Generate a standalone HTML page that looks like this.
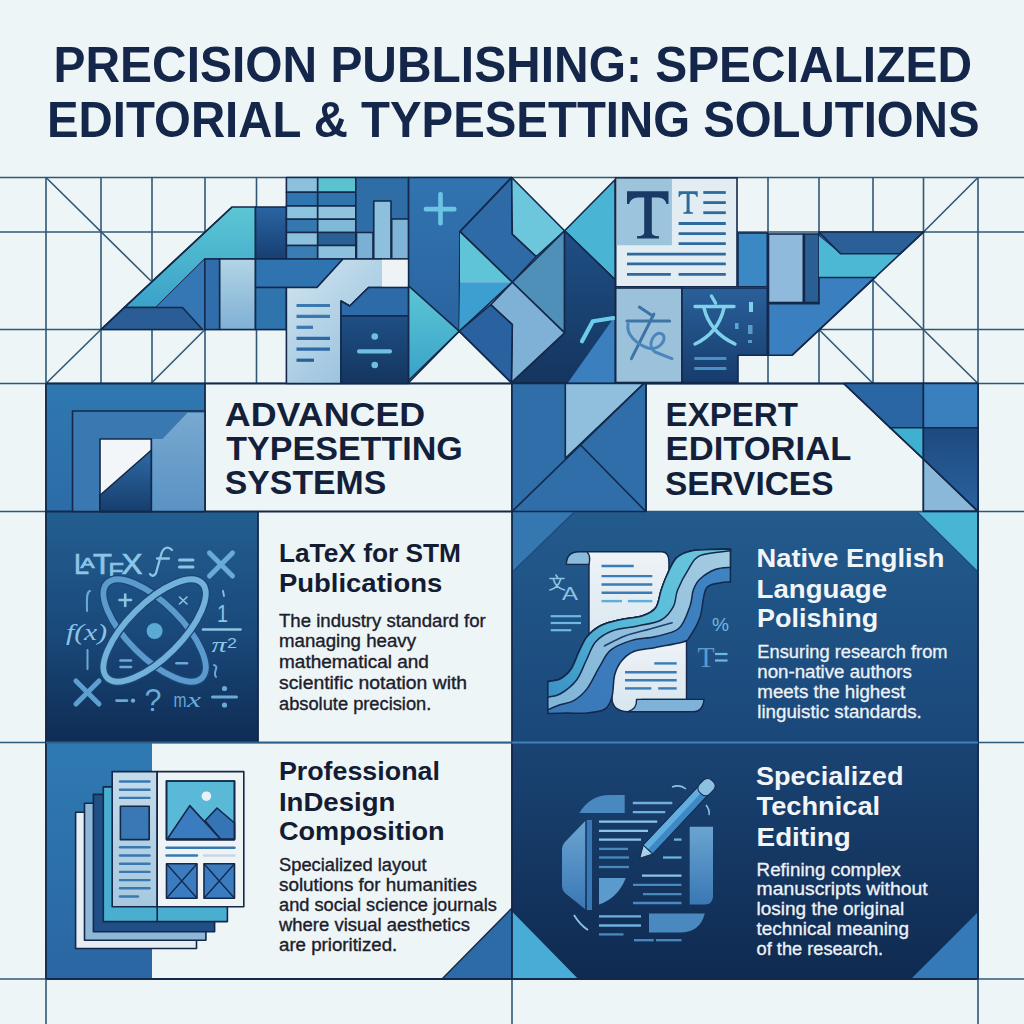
<!DOCTYPE html>
<html><head><meta charset="utf-8">
<style>
html,body{margin:0;padding:0;background:#eef5f6;width:1024px;height:1024px;overflow:hidden}
svg{display:block}
.t{font-family:"Liberation Sans",sans-serif;font-weight:bold}
.r{font-family:"Liberation Sans",sans-serif}
</style></head><body>
<svg width="1024" height="1024" viewBox="0 0 1024 1024">
<defs>
<linearGradient id="gDark" x1="0" y1="0" x2="0" y2="1"><stop offset="0" stop-color="#2a609a"/><stop offset="1" stop-color="#163c6c"/></linearGradient>
<linearGradient id="gDark2" x1="0" y1="0" x2="0" y2="1"><stop offset="0" stop-color="#1f4f85"/><stop offset="1" stop-color="#14355f"/></linearGradient>
<linearGradient id="gP3" x1="0" y1="0" x2="0" y2="1"><stop offset="0" stop-color="#235b8c"/><stop offset="1" stop-color="#1a477a"/></linearGradient>
<linearGradient id="gP4" x1="0" y1="0" x2="0" y2="1"><stop offset="0" stop-color="#1a4474"/><stop offset="1" stop-color="#0f2a50"/></linearGradient>
<linearGradient id="gID" x1="0" y1="0" x2="0" y2="1"><stop offset="0" stop-color="#2f7ab2"/><stop offset="1" stop-color="#2a66a3"/></linearGradient>
<linearGradient id="gLogoO" x1="0" y1="0" x2="0" y2="1"><stop offset="0" stop-color="#2f78b0"/><stop offset="1" stop-color="#2c6ca8"/></linearGradient>
<linearGradient id="gLatex" x1="0" y1="0" x2="0" y2="1"><stop offset="0" stop-color="#235e90"/><stop offset="0.5" stop-color="#1a4a7c"/><stop offset="1" stop-color="#0f2c54"/></linearGradient>
</defs>
<rect width="1024" height="1024" fill="#eef5f6"/>
<!-- background grid -->
<g id="grid" stroke="#2f5878" stroke-width="1.6" fill="none">
<line x1="0" y1="177.5" x2="1024" y2="177.5"/>
<line x1="0" y1="232" x2="1024" y2="232"/>
<line x1="0" y1="329.5" x2="1024" y2="329.5"/>
<line x1="0" y1="383.5" x2="1024" y2="383.5"/>
<line x1="0" y1="511.5" x2="1024" y2="511.5"/>
<line x1="0" y1="742.5" x2="1024" y2="742.5"/>
<line x1="0" y1="979" x2="1024" y2="979"/>
<line x1="46" y1="177.5" x2="46" y2="1024"/>
<line x1="978" y1="177.5" x2="978" y2="1024"/>
<line x1="101" y1="177.5" x2="101" y2="383.5"/>
<line x1="152" y1="177.5" x2="152" y2="383.5"/>
<line x1="205" y1="177.5" x2="205" y2="383.5"/>
<line x1="256.5" y1="177.5" x2="256.5" y2="383.5"/>
<line x1="768" y1="177.5" x2="768" y2="383.5"/>
<line x1="819" y1="177.5" x2="819" y2="383.5"/>
<line x1="873" y1="177.5" x2="873" y2="383.5"/>
<line x1="923.5" y1="177.5" x2="923.5" y2="383.5"/>
<line x1="512" y1="511.5" x2="512" y2="1024"/>
<!-- diagonals -->
<line x1="46" y1="177.5" x2="151" y2="281"/>
<line x1="101" y1="329.5" x2="46" y2="383.5"/>
<line x1="205" y1="329.5" x2="151" y2="383.5"/>
<line x1="923.5" y1="232" x2="978" y2="177.5"/>
<line x1="873" y1="280" x2="978" y2="383.5"/>
<line x1="819" y1="329.5" x2="873" y2="383.5"/>
</g>

<!-- title -->
<g class="t" fill="#14264a" font-size="50">
<text x="53.5" y="81.5" textLength="918.5" lengthAdjust="spacingAndGlyphs">PRECISION PUBLISHING: SPECIALIZED</text>
<text x="47" y="136.6" textLength="932.5" lengthAdjust="spacingAndGlyphs">EDITORIAL &amp; TYPESETTING SOLUTIONS</text>
</g>

<!-- section panels -->
<g id="panels">
<rect x="46" y="383.5" width="159" height="128" fill="url(#gLogoO)"/>
<rect x="205" y="383.5" width="307" height="128" fill="#eef5f6"/>
<rect x="46" y="511.5" width="212" height="231" fill="url(#gLatex)"/>
<rect x="258" y="511.5" width="254" height="231" fill="#eef5f6"/>
<rect x="512" y="511.5" width="466" height="231" fill="url(#gP3)"/>
<rect x="46" y="742.5" width="106" height="236.5" fill="url(#gID)"/>
<rect x="512" y="742.5" width="466" height="236.5" fill="url(#gP4)"/>
<polygon points="442,979 512,908 512,979" fill="#2d6aa8" stroke="#13284a" stroke-width="1.4"/>
<polygon points="911,979 978,912 978,979" fill="#3479b8"/>
<polygon points="512,911.6 512,979 578.2,979" fill="#48acd6"/>
</g>
<g stroke="#13284a" stroke-width="1.8" fill="none">
<line x1="46" y1="383.5" x2="978" y2="383.5"/>
<line x1="46" y1="511.5" x2="512" y2="511.5"/>
<line x1="46" y1="383.5" x2="46" y2="979"/>
<line x1="978" y1="383.5" x2="978" y2="979"/>
<line x1="205" y1="383.5" x2="205" y2="511.5"/>
<line x1="512" y1="383.5" x2="512" y2="979"/>
<line x1="46" y1="979" x2="978" y2="979"/>
<line x1="258" y1="511.5" x2="258" y2="742.5"/>
</g>
<line x1="512" y1="742.5" x2="978" y2="742.5" stroke="#3d80bb" stroke-width="2"/>
<line x1="46" y1="742.5" x2="512" y2="742.5" stroke="#2f5f88" stroke-width="1.8"/>

<!-- section heading texts -->
<g class="t" fill="#141f3a" font-size="33">
<text x="224.8" y="426.2" textLength="200.4" lengthAdjust="spacingAndGlyphs">ADVANCED</text>
<text x="226.2" y="460" textLength="236.6" lengthAdjust="spacingAndGlyphs">TYPESETTING</text>
<text x="224.8" y="494" textLength="161.4" lengthAdjust="spacingAndGlyphs">SYSTEMS</text>
<text x="665.6" y="425.9" textLength="132.4" lengthAdjust="spacingAndGlyphs">EXPERT</text>
<text x="665.6" y="460.2" textLength="185.7" lengthAdjust="spacingAndGlyphs">EDITORIAL</text>
<text x="664.9" y="494.5" textLength="168.6" lengthAdjust="spacingAndGlyphs">SERVICES</text>
</g>
<g class="t" fill="#141c33" font-size="26.5">
<text x="278.9" y="562.2" textLength="182.1" lengthAdjust="spacingAndGlyphs">LaTeX for STM</text>
<text x="278.9" y="591.5" textLength="163.4" lengthAdjust="spacingAndGlyphs">Publications</text>
<text x="278.9" y="780" textLength="161.0" lengthAdjust="spacingAndGlyphs">Professional</text>
<text x="278.9" y="810.5" textLength="116.5" lengthAdjust="spacingAndGlyphs">InDesign</text>
<text x="278.9" y="840.2" textLength="165.7" lengthAdjust="spacingAndGlyphs">Composition</text>
</g>
<g class="t" fill="#f2f5f8" font-size="26.5">
<text x="756.6" y="567" textLength="187.9" lengthAdjust="spacingAndGlyphs">Native English</text>
<text x="756.6" y="598" textLength="130.5" lengthAdjust="spacingAndGlyphs">Language</text>
<text x="757.0" y="627.3" textLength="121.2" lengthAdjust="spacingAndGlyphs">Polishing</text>
<text x="755.9" y="784.7" textLength="147.6" lengthAdjust="spacingAndGlyphs">Specialized</text>
<text x="756.6" y="815.2" textLength="123.5" lengthAdjust="spacingAndGlyphs">Technical</text>
<text x="756.6" y="845.6" textLength="94.2" lengthAdjust="spacingAndGlyphs">Editing</text>
</g>
<g class="r" fill="#1b202c" stroke="#1b202c" stroke-width="0.35" font-size="17.5">
<text x="279.0" y="626.6" textLength="206.8" lengthAdjust="spacingAndGlyphs">The industry standard for</text>
<text x="279.0" y="647.4" textLength="137.0" lengthAdjust="spacingAndGlyphs">managing heavy</text>
<text x="279.0" y="668.2" textLength="149.9" lengthAdjust="spacingAndGlyphs">mathematical and</text>
<text x="279.0" y="689" textLength="188.1" lengthAdjust="spacingAndGlyphs">scientific notation with</text>
<text x="279.0" y="709.8" textLength="152.3" lengthAdjust="spacingAndGlyphs">absolute precision.</text>
<text x="279.0" y="871.4" textLength="147.5" lengthAdjust="spacingAndGlyphs">Specialized layout</text>
<text x="279.0" y="891.3" textLength="197.9" lengthAdjust="spacingAndGlyphs">solutions for humanities</text>
<text x="279.0" y="911.2" textLength="217.8" lengthAdjust="spacingAndGlyphs">and social science journals</text>
<text x="279.0" y="931.1" textLength="190.9" lengthAdjust="spacingAndGlyphs">where visual aesthetics</text>
<text x="279.0" y="951" textLength="118.3" lengthAdjust="spacingAndGlyphs">are prioritized.</text>
</g>
<g class="r" fill="#eef2f6" stroke="#eef2f6" stroke-width="0.3" font-size="17.5">
<text x="757.3" y="658.4" textLength="190.3" lengthAdjust="spacingAndGlyphs">Ensuring research from</text>
<text x="757.3" y="678.4" textLength="154.6" lengthAdjust="spacingAndGlyphs">non-native authors</text>
<text x="757.3" y="698.3" textLength="148.0" lengthAdjust="spacingAndGlyphs">meets the highest</text>
<text x="757.3" y="718.2" textLength="164.5" lengthAdjust="spacingAndGlyphs">linguistic standards.</text>
<text x="756.6" y="876.1" textLength="144.1" lengthAdjust="spacingAndGlyphs">Refining complex</text>
<text x="756.6" y="895.3" textLength="171.0" lengthAdjust="spacingAndGlyphs">manuscripts without</text>
<text x="756.6" y="915.2" textLength="147.6" lengthAdjust="spacingAndGlyphs">losing the original</text>
<text x="756.6" y="935.2" textLength="152.3" lengthAdjust="spacingAndGlyphs">technical meaning</text>
<text x="756.6" y="955" textLength="126.5" lengthAdjust="spacingAndGlyphs">of the research.</text>
</g>
<!--TOPBLOCK-->
<!-- TOP BLOCK LEFT -->
<g id="topleft" stroke="#13284a" stroke-width="1.6" stroke-linejoin="round">
<linearGradient id="gTeal" x1="0" y1="0" x2="0" y2="1"><stop offset="0" stop-color="#5cc6d4"/><stop offset="1" stop-color="#3aa2c9"/></linearGradient>
<linearGradient id="gLightBlk" x1="0" y1="0" x2="0" y2="1"><stop offset="0" stop-color="#b2d4e6"/><stop offset="1" stop-color="#7fb0d4"/></linearGradient>
<linearGradient id="gDoc" x1="0" y1="0" x2="1" y2="1"><stop offset="0" stop-color="#d3e6f0"/><stop offset="1" stop-color="#86b6d8"/></linearGradient>
<linearGradient id="gCol" x1="0" y1="0" x2="0" y2="1"><stop offset="0" stop-color="#2a64a2"/><stop offset="1" stop-color="#173f72"/></linearGradient>
<polygon points="232,207 255.5,207 255.5,259 204.8,259 156,307.5 124.1,307.5" fill="url(#gTeal)"/>
<polygon points="204.8,259 204.8,329.5 202.5,329.5 182.5,307.5 156,307.5" fill="#3577b5" stroke="none"/>
<polygon points="124.1,307.5 182.5,307.5 202.5,329.5 101,329.5" fill="#2a5d95"/>
<line x1="101" y1="329.5" x2="232" y2="207"/>
<rect x="255.5" y="207" width="31" height="52" fill="url(#gCol)"/>
<!-- table -->
<rect x="286.4" y="177.5" width="31.3" height="14.8" fill="#8cc0dc"/>
<rect x="286.4" y="192.3" width="31.3" height="13.7" fill="#2f76b0"/>
<rect x="286.4" y="206" width="31.3" height="13.3" fill="#8cc3de"/>
<rect x="286.4" y="219.3" width="31.3" height="13.2" fill="#3578b0"/>
<rect x="286.4" y="232.5" width="31.3" height="13" fill="#8cc0dc"/>
<rect x="286.4" y="245.5" width="31.3" height="13.5" fill="#3a7db5"/>
<rect x="317.7" y="177.5" width="38.1" height="14.8" fill="#5bc3d0"/>
<rect x="317.7" y="192.3" width="38.1" height="13.7" fill="#2f74ad"/>
<rect x="317.7" y="206" width="38.1" height="13.3" fill="#8fc3de"/>
<rect x="317.7" y="219.3" width="38.1" height="13.2" fill="#80b8d8"/>
<rect x="317.7" y="232.5" width="38.1" height="13" fill="#2a5f94"/>
<rect x="317.7" y="245.5" width="38.1" height="13.5" fill="#8cc0dc"/>
<!-- chart -->
<rect x="355.8" y="177.5" width="52.8" height="81.5" fill="#2e6da6"/>
<rect x="356.5" y="232.5" width="16.5" height="26.5" fill="#7ab0d4"/>
<rect x="373.75" y="201" width="17.25" height="58" fill="#8cc0dc"/>
<rect x="391.7" y="219" width="16.9" height="40" fill="#7fb4d6"/>
<!-- lower row -->
<rect x="204.8" y="259" width="14.9" height="70.5" fill="#2f6eaa"/>
<rect x="219.7" y="259" width="35.8" height="70.5" fill="url(#gLightBlk)"/>
<polygon points="255.5,259 343,259 317,287.5 255.5,287.5" fill="#2f74b0"/>
<rect x="255.5" y="287.5" width="30.9" height="42" fill="#3074ae"/>
<polygon points="343,259 408.6,259 408.6,287.5 368.5,287.5 349.75,306 341,301 341,383.5 286.4,383.5 286.4,287.5 317,287.5" fill="url(#gDoc)"/>
<rect x="382" y="259.8" width="26" height="27" fill="#eef3f5" stroke="none"/>
<polygon points="341,301 349.75,306 368.5,287.5 408.6,287.5 408.6,316 341,316" fill="#2c6aa8"/>
<rect x="341" y="316" width="67.6" height="67.5" fill="url(#gDark2)"/>
</g>
<g stroke="#3a78b0" stroke-width="3.2" stroke-linecap="butt">
<line x1="296.5" y1="305.5" x2="330" y2="305.5"/>
<line x1="296.5" y1="316.4" x2="330" y2="316.4"/>
<line x1="296.5" y1="327.3" x2="313" y2="327.3"/>
<line x1="296.5" y1="338.3" x2="330" y2="338.3" stroke="#2d6aa3"/>
<line x1="296.5" y1="349.2" x2="330" y2="349.2" stroke="#2d6aa3"/>
<line x1="296.5" y1="360.2" x2="314" y2="360.2" stroke="#2a609a"/>
</g>
<g fill="#6cc0e0">
<circle cx="374.75" cy="336.5" r="3.3"/>
<circle cx="374.75" cy="365" r="3.3"/>
<rect x="357" y="349.3" width="35" height="4.2" rx="2"/>
</g>
<!-- PLUS PANEL + TANGRAM -->
<g stroke="#13284a" stroke-width="1.6" stroke-linejoin="round">
<linearGradient id="gPlus" x1="0" y1="0" x2="0" y2="1"><stop offset="0" stop-color="#3174b0"/><stop offset="1" stop-color="#2a64a0"/></linearGradient>
<polygon points="408.6,177.5 511.7,177.5 460,231.6 459.2,331.25 408.6,286" fill="url(#gPlus)"/>
<polygon points="408.6,286 459.2,331.25 408.6,380.5" fill="url(#gTeal)"/>
<polygon points="511.7,177.5 512.3,234.1 536.3,256.5 512.3,282.3 460,231.6" fill="#2e6aa6"/>
<polygon points="511.7,177.5 564.6,230.8 536.3,256.5 512.3,234.1" fill="#6cc6dc"/>
<polygon points="564.6,230.8 615,179.7 615.2,279.8" fill="#4ab4d4"/>
<polygon points="460,232 512.3,282.3 460,282.3" fill="#60c4d8" stroke="none"/>
<polygon points="460,282.3 512.3,282.3 459.2,331.25" fill="#3d9ed0" stroke="none"/>
<line x1="460" y1="231.6" x2="512.3" y2="282.3"/>
<line x1="512.3" y1="282.3" x2="459.2" y2="331.25"/>
<polygon points="512.3,282.3 564.6,230.8 564.6,332.9" fill="#4f90b8"/>
<polygon points="564.6,230.8 615.2,279.8 615.2,382.7 511.4,382.7 564.6,332.9" fill="url(#gDark2)"/>
<polygon points="567.9,382.7 614.4,317.1 614.4,382.7" fill="#3b7fbf" stroke="none"/>
<polygon points="490.7,304.7 512.3,282.3 564.6,332.9 511.4,382.7 512.3,324.6" fill="#7fb0d6"/>
<polygon points="459.2,331.25 490.7,304.7 512.3,324.6 511.4,382.7" fill="#2a62a0"/>
<line x1="408.6" y1="382.7" x2="459.2" y2="331.25"/>
<line x1="459.2" y1="331.25" x2="511.4" y2="382.7"/>
</g>
<polyline points="582,341.2 592.8,321.3 613.5,318" fill="none" stroke="#6ccbea" stroke-width="4.2" stroke-linecap="round" stroke-linejoin="round"/>
<g fill="#6cc4e4">
<rect x="423.75" y="206.8" width="32.75" height="4.6" rx="2"/>
<rect x="438.2" y="192" width="4.6" height="33.5" rx="2"/>
</g>
<!-- T DOC + 文 blocks -->
<g stroke="#13284a" stroke-width="1.6">
<rect x="615.7" y="177.9" width="121.3" height="108.9" fill="#e2ecf3"/>
<rect x="616.8" y="179" width="55.1" height="66.2" fill="#9cc4dc" stroke="none"/>
<rect x="738" y="233" width="29.3" height="53.8" fill="#3a88c4"/>
<rect x="768.5" y="234" width="34.8" height="68.5" fill="#8fbadb"/>
<rect x="804.4" y="234" width="14.6" height="68.5" fill="#2a5f94"/>
<rect x="615.7" y="288" width="66.3" height="94.5" fill="#9cc2db"/>
<polygon points="682,288 767.3,288 767.3,355.3 738,355.3 738,382.5 682,382.5" fill="url(#gDark)"/>
<polygon points="819,232 923.5,232 900.3,253.75 840.5,253.75 819,236" fill="#2a5f98"/>
<polygon points="819,236 840.5,253.75 900.3,253.75 875,277.5 819,277.5" fill="#4cb8d4" stroke="none"/>
<polygon points="768.5,303.6 819,303.6 819,277.5 875,277.5 792,355.3 768.5,355.3" fill="#3a80c0"/>
<line x1="923.5" y1="232" x2="792" y2="355.3"/>
<polyline points="819,232 840.5,253.75 900.3,253.75" fill="none"/>
</g>
<path d="M627,191.3 L668.5,191.3 L668.5,204 L666.5,204 Q665,197.5 658,197.5 L651.8,197.5 L651.8,233 Q652,236 659,236.2 L659,238.5 L637,238.5 L637,236.2 Q644,236 644.2,233 L644.2,197.5 L638,197.5 Q631,197.5 629,204 L627,204 Z" fill="#1a3a66"/>
<path d="M678.6,191.3 L697.7,191.3 L697.7,197 L696.7,197 Q696,194 693,194 L689.6,194 L689.6,211 Q690,212.3 693,212.4 L693,213.8 L683.3,213.8 L683.3,212.4 Q686.3,212.3 686.6,211 L686.6,194 L683.3,194 Q680.3,194 679.6,197 L678.6,197 Z" fill="#2f6a9a"/>
<g stroke="#2f6a9e" stroke-width="2.8">
<line x1="703.3" y1="192.5" x2="725.8" y2="192.5"/>
<line x1="703.3" y1="202.6" x2="725.8" y2="202.6"/>
<line x1="703.3" y1="212.7" x2="725.8" y2="212.7"/>
<line x1="678.6" y1="223.5" x2="725.8" y2="223.5"/>
<line x1="678.6" y1="233.6" x2="725.8" y2="233.6"/>
<line x1="678.6" y1="243.7" x2="725.8" y2="243.7"/>
<line x1="627" y1="254.2" x2="725.8" y2="254.2"/>
<line x1="627" y1="263.9" x2="725.8" y2="263.9"/>
<line x1="627" y1="274.4" x2="670.8" y2="274.4"/>
<line x1="678.6" y1="274.4" x2="725.8" y2="274.4"/>
</g>
<path d="M711.5,296 L715.5,303 M695,306.5 L734,306.5 M724,308 C720,325 710,337 695,344 M704,308 C708,325 720,337 735,344" fill="none" stroke="#7fd0ea" stroke-width="3.4" stroke-linecap="round"/>
<g fill="#7fd0ea">
<rect x="749" y="302" width="4" height="10"/>
<rect x="735" y="323" width="3.5" height="6" fill="#5aa8d0"/>
<rect x="748" y="325" width="4.5" height="9" fill="#5a9cc8"/>
<rect x="748" y="340" width="4" height="3" fill="#5a9cc8"/>
<rect x="694.3" y="357" width="32" height="3" fill="#4a90c8"/>
<rect x="694.3" y="367" width="32" height="3" fill="#4a90c8"/>
</g>
<g fill="none" stroke="#3c74a8" stroke-width="3" stroke-linecap="round" stroke-linejoin="round">
<path d="M639.3,307 L652.8,316"/>
<path d="M627,321 L669.6,321"/>
<path d="M631.4,358.7 L653.9,314"/>
<path d="M628,324 C626,334 636,344 648,348 C660,351 668,338 662,334 C654,330 646,346 655,352 L671.9,358.7" stroke="#4a86bc"/>
</g>

<!--/TOPBLOCK-->
<!--SEC2-->
<!-- SECTION 2 SHAPES -->
<g stroke="#13284a" stroke-width="1.6" stroke-linejoin="round">
<linearGradient id="gLogoDark" x1="0" y1="0" x2="0" y2="1"><stop offset="0" stop-color="#2f6aa5"/><stop offset="1" stop-color="#163e6e"/></linearGradient>
<linearGradient id="gLogoLight" x1="0" y1="0" x2="0" y2="1"><stop offset="0" stop-color="#78a9d0"/><stop offset="1" stop-color="#5a92c4"/></linearGradient>
<linearGradient id="gSq" x1="0" y1="0" x2="0" y2="1"><stop offset="0" stop-color="#1d4a7e"/><stop offset="1" stop-color="#2a62a0"/></linearGradient>
<rect x="72.5" y="411" width="132.5" height="100.5" fill="#3a78b2"/>
<rect x="100" y="439" width="51.25" height="72.5" fill="#f3f6f8"/>
<polygon points="100,495.25 151.25,450.25 151.25,511.5 100,511.5" fill="url(#gLogoDark)"/>
<polygon points="152.5,439 162.5,439 187.5,412.8 204,412.8 204,511.5 152.5,511.5" fill="url(#gLogoLight)" stroke="none"/>
<line x1="100" y1="511.5" x2="205" y2="511.5"/>
<rect x="512" y="383.5" width="134" height="128" fill="#2f6ea8"/>
<polygon points="565.3,383.5 643.75,383.5 565.3,458.3" fill="#8fbfdc"/>
<line x1="643.75" y1="383.5" x2="512.5" y2="511"/>
<line x1="580.5" y1="445" x2="645.3" y2="511"/>
<line x1="646" y1="383.5" x2="646" y2="511.5"/>
<polygon points="843.7,383.5 923.4,383.5 923.4,427.7 890,427.7" fill="#2a66a3"/>
<rect x="923.4" y="383.5" width="54.6" height="44.2" fill="#3a80bf"/>
<polygon points="890,427.7 923.4,427.7 923.4,459" fill="#3fb0d0"/>
<rect x="923.4" y="427.7" width="54.6" height="83.8" fill="url(#gSq)"/>
<polygon points="923.4,459 977.3,511 923.4,511" fill="#8ab8d8"/>
<line x1="843.7" y1="383.5" x2="978" y2="511"/>
</g>
<polygon points="917.6,512.5 977,512.5 977,571" fill="#49b5d5"/>
<polygon points="513,512.5 573.8,512.5 513,571.5" fill="#3577b0"/>
<line x1="573.8" y1="512.5" x2="513" y2="571.5" stroke="#1f4a7e" stroke-width="1.4"/>
<line x1="917.6" y1="512.5" x2="977" y2="571" stroke="#1f4a7e" stroke-width="1.4"/>

<!--/SEC2-->
<!--ICONS-->
<!-- LATEX ICON -->
<g id="latex">
<g fill="#8cc6e6" stroke="#8cc6e6" stroke-width="0.7" font-family="Liberation Sans">
<text x="74" y="574.3" font-size="29" textLength="15" lengthAdjust="spacingAndGlyphs">L</text>
<text x="80.4" y="567.8" font-size="14" textLength="14" lengthAdjust="spacingAndGlyphs">A</text>
<text x="93" y="574.3" font-size="29" textLength="19" lengthAdjust="spacingAndGlyphs">T</text>
<text x="108.5" y="580" font-size="24" textLength="16" lengthAdjust="spacingAndGlyphs">E</text>
<text x="121.5" y="574.3" font-size="29" textLength="21" lengthAdjust="spacingAndGlyphs">X</text>
</g>
<path d="M172,550 C168,546 163,547 161,555 L156,573 C154,577 151,576 150,574 M157,558.5 L169,558.5" fill="none" stroke="#8cc4e4" stroke-width="2.3" stroke-linecap="round"/>
<g stroke="#8cc4e4" stroke-width="3" stroke-linecap="round" fill="none">
<line x1="179.5" y1="560" x2="193" y2="560"/>
<line x1="179.5" y1="567" x2="193" y2="567"/>
<line x1="209.5" y1="553" x2="232.5" y2="576" stroke-width="5" stroke="#6aaad8"/>
<line x1="232.5" y1="553" x2="209.5" y2="576" stroke-width="5" stroke="#6aaad8"/>
<line x1="76" y1="681" x2="99" y2="704" stroke-width="5" stroke="#5e9fd0"/>
<line x1="99" y1="681" x2="76" y2="704" stroke-width="5" stroke="#5e9fd0"/>
</g>
<!-- atom -->
<g fill="none">
<ellipse cx="154.6" cy="630.5" rx="67" ry="27" transform="rotate(45 154.6 630.5)" stroke="#1c4676" stroke-width="8.5"/>
<ellipse cx="154.6" cy="630.5" rx="67" ry="27" transform="rotate(45 154.6 630.5)" stroke="#5a9acc" stroke-width="5.8"/>
<ellipse cx="154.6" cy="630.5" rx="67" ry="27" transform="rotate(-45 154.6 630.5)" stroke="#1c4676" stroke-width="8.5"/>
<ellipse cx="154.6" cy="630.5" rx="67" ry="27" transform="rotate(-45 154.6 630.5)" stroke="#72b2da" stroke-width="5.8"/>
</g>
<circle cx="154.6" cy="631" r="8" fill="#5aaad4"/>
<g fill="#8cc4e4" font-family="Liberation Serif">
<text x="66" y="640" font-style="italic" font-size="23" textLength="41" lengthAdjust="spacingAndGlyphs">f(x)</text>
<text x="217" y="622" font-family="Liberation Sans" font-size="24" textLength="11" lengthAdjust="spacingAndGlyphs">1</text>
<text x="211.5" y="652" font-style="italic" font-size="22" textLength="15" lengthAdjust="spacingAndGlyphs">π</text>
<text x="227" y="648" font-family="Liberation Sans" font-size="14" textLength="10" lengthAdjust="spacingAndGlyphs">2</text>
<text x="144.5" y="711" font-family="Liberation Sans" font-size="31" textLength="17" lengthAdjust="spacingAndGlyphs" fill="#6aaad8">?</text>
<text x="173.5" y="707" font-family="Liberation Sans" font-size="20" textLength="13" lengthAdjust="spacingAndGlyphs" fill="#6aaad8">m</text>
<text x="187" y="707" font-style="italic" font-size="22" textLength="14" lengthAdjust="spacingAndGlyphs" fill="#6aaad8">x</text>
</g>
<g stroke="#8cc4e4" stroke-width="2.6" stroke-linecap="round" fill="none">
<line x1="203" y1="629.5" x2="240.5" y2="629.5"/>
<line x1="119.5" y1="600" x2="131" y2="600"/>
<line x1="125.2" y1="594.5" x2="125.2" y2="606"/>
<line x1="179.5" y1="597" x2="187" y2="604" stroke-width="1.6"/>
<line x1="187" y1="597" x2="179.5" y2="604" stroke-width="1.6"/>
<line x1="120.5" y1="660.5" x2="131" y2="660.5" stroke="#6aaad8"/>
<line x1="120.5" y1="667" x2="131" y2="667" stroke="#6aaad8"/>
<line x1="176.5" y1="663.3" x2="187" y2="663.3" stroke="#6aaad8"/>
<line x1="116.5" y1="700.6" x2="127" y2="700.6" stroke="#6aaad8"/>
<line x1="212.5" y1="697" x2="236.5" y2="697" stroke="#6aaad8" stroke-width="3"/>
<path d="M90,591 C86,592 87,600 87,611 M87.5,650 L87.5,669" stroke="#6aaad8" stroke-width="2"/>
<path d="M214,665 C220,667 212,672 216,677" stroke="#6aaad8" stroke-width="2"/>
<path d="M223,591 L224,596" stroke="#8cc4e4" stroke-width="1.8"/>
</g>
<g fill="#6aaad8"><circle cx="224.5" cy="688.5" r="2.6"/><circle cx="224.5" cy="705" r="2.6"/><circle cx="133" cy="700.6" r="2.2"/></g>
</g>

<!-- INDESIGN ICON -->
<g id="indesign" stroke="#13284a" stroke-width="1.6" stroke-linejoin="round">
<linearGradient id="gPgL" x1="0" y1="0" x2="0" y2="1"><stop offset="0" stop-color="#c4dbe9"/><stop offset="1" stop-color="#a6c8df"/></linearGradient>
<rect x="75.6" y="812.2" width="120.9" height="136.3" fill="#e6eef4"/>
<rect x="84.5" y="803.3" width="121.4" height="137" fill="#8fb8d6"/>
<rect x="93.4" y="794.4" width="121.2" height="137.3" fill="#1f4f85"/>
<rect x="103.3" y="786.9" width="124.1" height="134.7" fill="#4aaed0"/>
<rect x="112.2" y="771.6" width="45" height="135.2" fill="url(#gPgL)"/>
<rect x="157.2" y="771.6" width="86.6" height="135.2" fill="#eef3f6"/>
<line x1="157.2" y1="906.8" x2="157.2" y2="921.6"/>
<rect x="166.5" y="781" width="68" height="58.6" fill="#5ab9d6"/>
<polygon points="205,820.8 217,808 234.5,823 234.5,839 220.4,839" fill="#3574b5"/>
<polygon points="167.3,839 189.8,805.6 220.4,839" fill="#3a7cbf"/>
<rect x="166.5" y="781" width="68" height="58.6" fill="none"/>
<rect x="120.4" y="806.3" width="28.8" height="33.3" fill="#3a78b5"/>
<rect x="166.5" y="863.7" width="30.5" height="34.5" fill="#3a7cbf"/>
<rect x="204" y="863.7" width="30.5" height="34.5" fill="#3a7cbf"/>
<path d="M166.5,863.7 L197,898.2 M197,863.7 L166.5,898.2 M204,863.7 L234.5,898.2 M234.5,863.7 L204,898.2" fill="none" stroke-width="1.3"/>
</g>
<circle cx="206.4" cy="796.2" r="4.8" fill="#e8f2f6"/>
<g stroke="#3a78b0" stroke-width="2.4" stroke-linecap="round">
<line x1="120" y1="781.5" x2="149.5" y2="781.5"/>
<line x1="120" y1="789.7" x2="149.5" y2="789.7"/>
<line x1="120" y1="797.9" x2="149.5" y2="797.9"/>
<line x1="120" y1="847.3" x2="149.5" y2="847.3"/>
<line x1="120" y1="855.5" x2="149.5" y2="855.5"/>
<line x1="120" y1="863.7" x2="149.5" y2="863.7"/>
<line x1="120" y1="871.9" x2="149.5" y2="871.9"/>
<line x1="120" y1="880.1" x2="149.5" y2="880.1"/>
<line x1="120" y1="888.3" x2="149.5" y2="888.3"/>
<line x1="120" y1="896.5" x2="138" y2="896.5"/>
<line x1="166.5" y1="847.8" x2="234.5" y2="847.8"/>
<line x1="166.5" y1="855.5" x2="197" y2="855.5"/>
<line x1="204" y1="855.5" x2="234.5" y2="855.5" stroke="#c8d8e2"/>
</g>

<!-- SCROLL ICON -->
<g id="scroll">
<linearGradient id="gPaper" x1="0" y1="0" x2="0" y2="1"><stop offset="0" stop-color="#eef3f7"/><stop offset="1" stop-color="#d8e6ef"/></linearGradient>
<linearGradient id="gTealW" x1="0" y1="1" x2="1" y2="0"><stop offset="0" stop-color="#3a90c4"/><stop offset="0.5" stop-color="#58bcd8"/><stop offset="1" stop-color="#6cc6de"/></linearGradient>
<linearGradient id="gLightW" x1="0" y1="1" x2="1" y2="0"><stop offset="0" stop-color="#7fb4d8"/><stop offset="1" stop-color="#a4cce2"/></linearGradient>
<linearGradient id="gMidW" x1="0" y1="1" x2="1" y2="0"><stop offset="0" stop-color="#3a78b8"/><stop offset="1" stop-color="#3f84c4"/></linearGradient>
<path d="M586.9,551.7 L662,551.7 Q669,552 668.9,562 L668.9,650 L589,650 L589,564.4 Z" fill="url(#gPaper)" stroke="#13284a" stroke-width="1.4"/>
<path d="M566.4,564.4 Q566.4,551.7 579,551.7 L587,551.7 Q591,556 589,564.4 Z" fill="#8cbcdc" stroke="#13284a" stroke-width="1.4"/>
<path d="M614.2,640 L686.5,640 L686.5,699.4 L641.6,699.4 Q642,711.7 628,711.7 Q612,711 612,698 Z" fill="url(#gPaper)" stroke="#13284a" stroke-width="1.4"/>
<path d="M636.6,699.4 L704,699.4 Q703,711.7 693,711.7 L628,711.7 Q637,709 636.6,699.4 Z" fill="#7fb2d8" stroke="#13284a" stroke-width="1.4"/>
<path d="M547.8,681.5 C549.8,681.1 556.1,681.0 560.0,679.0 C563.9,677.0 567.8,673.9 571.0,669.3 C574.2,664.7 576.4,657.0 579.1,651.5 C581.8,646.0 583.6,640.8 587.3,636.5 C590.9,632.2 595.3,628.4 601.0,625.5 C606.7,622.6 614.7,621.0 621.5,619.4 C628.3,617.8 636.3,617.9 642.0,616.0 C647.7,614.1 652.5,612.1 655.7,607.8 C658.9,603.5 659.3,595.5 661.2,590.0 C663.1,584.5 664.4,580.4 667.0,575.0 C669.6,569.6 672.5,561.6 676.7,557.6 C680.9,553.6 685.8,552.1 692.3,550.7 C698.8,549.3 709.4,549.6 715.8,549.4 C722.1,549.2 728.0,549.4 730.4,549.4 L730.4,582.0 C728.6,582.2 723.8,581.9 719.7,583.0 C715.6,584.1 709.3,583.1 706.0,588.8 C702.7,594.5 702.7,609.3 700.0,617.3 C697.3,625.2 692.7,632.4 689.9,636.5 C687.1,640.6 688.7,640.2 683.0,642.0 C677.3,643.8 663.9,645.8 655.7,647.4 C647.5,649.0 639.5,649.2 633.8,651.5 C628.1,653.8 624.7,657.1 621.5,661.0 C618.3,664.9 616.3,668.9 614.7,674.8 C613.1,680.7 613.6,690.9 612.0,696.6 C610.4,702.3 609.1,706.3 605.0,709.0 C600.9,711.7 593.7,712.3 587.3,713.0 C580.9,713.7 573.4,712.9 566.8,713.0 C560.2,713.1 551.0,713.4 547.8,713.5 Z" fill="url(#gMidW)" stroke="#13284a" stroke-width="1.5"/>
<path d="M547.8,681.5 C549.8,681.1 556.1,681.0 560.0,679.0 C563.9,677.0 567.8,673.9 571.0,669.3 C574.2,664.7 576.4,657.0 579.1,651.5 C581.8,646.0 583.6,640.8 587.3,636.5 C590.9,632.2 595.3,628.4 601.0,625.5 C606.7,622.6 614.7,621.0 621.5,619.4 C628.3,617.8 636.3,617.9 642.0,616.0 C647.7,614.1 652.5,612.1 655.7,607.8 C658.9,603.5 659.3,595.5 661.2,590.0 C663.1,584.5 664.4,580.4 667.0,575.0 C669.6,569.6 672.5,561.6 676.7,557.6 C680.9,553.6 685.8,552.1 692.3,550.7 C698.8,549.3 709.4,549.6 715.8,549.4 C722.1,549.2 728.0,549.4 730.4,549.4 L730.4,567.3 C728.0,567.6 720.9,567.3 715.8,569.3 C710.7,571.2 703.8,575.5 700.0,579.0 C696.2,582.5 695.0,585.4 693.3,590.0 C691.6,594.6 692.3,600.0 689.9,606.4 C687.5,612.8 684.7,623.3 679.0,628.3 C673.3,633.3 663.7,634.5 655.7,636.5 C647.7,638.5 638.5,638.3 631.0,640.6 C623.5,642.9 615.8,645.9 610.6,650.2 C605.4,654.5 603.5,660.2 599.6,666.6 C595.7,673.0 591.6,682.7 587.3,688.4 C583.0,694.1 578.2,698.0 573.7,700.7 C569.2,703.4 564.3,703.2 560.0,704.8 C555.7,706.3 549.8,709.1 547.8,710.0 Z" fill="url(#gLightW)" stroke="#13284a" stroke-width="1.5"/>
<path d="M547.8,681.5 C549.8,681.1 556.1,681.0 560.0,679.0 C563.9,677.0 567.8,673.9 571.0,669.3 C574.2,664.7 576.4,657.0 579.1,651.5 C581.8,646.0 583.6,640.8 587.3,636.5 C590.9,632.2 595.3,628.4 601.0,625.5 C606.7,622.6 614.7,621.0 621.5,619.4 C628.3,617.8 636.3,617.9 642.0,616.0 C647.7,614.1 652.5,612.1 655.7,607.8 C658.9,603.5 659.3,595.5 661.2,590.0 C663.1,584.5 664.4,580.4 667.0,575.0 C669.6,569.6 672.5,561.6 676.7,557.6 C680.9,553.6 685.8,552.1 692.3,550.7 C698.8,549.3 709.4,549.6 715.8,549.4 C722.1,549.2 728.0,549.4 730.4,549.4 L730.4,550.7 C725.3,551.5 707.0,552.5 700.0,555.6 C693.0,558.7 692.1,563.6 688.4,569.3 C684.7,575.0 680.1,583.8 677.6,590.0 C675.1,596.2 676.2,601.4 673.5,606.4 C670.8,611.4 667.4,616.7 661.2,620.0 C655.1,623.3 644.8,624.4 636.6,626.2 C628.4,628.0 618.9,628.4 612.0,631.0 C605.1,633.6 599.8,637.0 595.5,642.0 C591.2,647.0 589.2,654.6 586.0,661.0 C582.8,667.4 580.7,674.7 576.4,680.2 C572.1,685.7 564.8,691.2 560.0,694.0 C555.2,696.8 549.8,696.5 547.8,697.0 Z" fill="url(#gTealW)" stroke="#13284a" stroke-width="1.5"/>
<path d="M604.4,646.0 C607.8,644.3 617.4,638.8 625.0,636.0 C632.6,633.2 642.1,631.2 650.0,629.0 C657.9,626.8 668.4,623.8 672.1,622.8" fill="none" stroke="#1d3f6a" stroke-width="1.6" stroke-linecap="round"/>
</g>
<g stroke="#3a7cb5" stroke-width="2.4">
<line x1="601.5" y1="566" x2="633.75" y2="566"/>
<line x1="601.5" y1="576.1" x2="652.3" y2="576.1"/>
<line x1="601.5" y1="584.5" x2="652.3" y2="584.5"/>
<line x1="601.5" y1="592.7" x2="652.3" y2="592.7"/>
<line x1="601.5" y1="601.1" x2="622" y2="601.1" stroke="#5ab0d6"/>
<line x1="627.9" y1="601.1" x2="652.3" y2="601.1" stroke="#5ab0d6"/>
<line x1="654.3" y1="663.4" x2="676.7" y2="663.4"/>
<line x1="625" y1="672.2" x2="676.7" y2="672.2"/>
<line x1="625" y1="680.2" x2="676.7" y2="680.2"/>
<line x1="625" y1="688.4" x2="651.3" y2="688.4"/>
<line x1="658.2" y1="688.4" x2="676.7" y2="688.4"/>
</g>
<g fill="#8cc4e4" font-family="Liberation Sans">

<text x="562" y="600" font-size="19" textLength="16" lengthAdjust="spacingAndGlyphs">A</text>
<text x="712" y="631" font-size="18" textLength="17" lengthAdjust="spacingAndGlyphs" fill="#6fb8e0">%</text>
<text x="697.5" y="667" font-family="Liberation Serif" font-size="30" textLength="17" lengthAdjust="spacingAndGlyphs" fill="#5a9ccc">T</text>
</g>
<path d="M556,575 L557.5,577.5 M550,578.5 L564,578.5 M560.5,579.5 C559,585 555,588.5 550,590 M553.5,579.5 C555,585 559,588.5 564.5,590" fill="none" stroke="#8cc4e4" stroke-width="1.6" stroke-linecap="round"/>
<g stroke="#6fb8e0" stroke-width="2.2">
<line x1="550.7" y1="616.2" x2="581" y2="616.2"/>
<line x1="550.7" y1="623" x2="581" y2="623"/>
<line x1="550.7" y1="630.2" x2="571.3" y2="630.2"/>
<line x1="715" y1="654" x2="727.5" y2="654"/>
<line x1="715" y1="660.5" x2="727.5" y2="660.5"/>
</g>

<!-- PEN ICON -->
<g id="pen">
<linearGradient id="gShape" x1="0" y1="0" x2="0" y2="1"><stop offset="0" stop-color="#6aa4d0"/><stop offset="1" stop-color="#3a78b5"/></linearGradient>
<path d="M585.2,821 L565,842 Q562,845 562,850 L562,886 Q562,890 565,893 L585.2,909.3 Z" fill="url(#gShape)"/>
<rect x="586.8" y="820" width="5.2" height="90" fill="#3a78b5"/>
<path d="M579.4,812.9 Q590,795 610,795 L624.7,795 L624.7,812.9 Z" fill="#4a88c0"/>
<path d="M689.7,826.8 L713,826.8 L713,897 Q712,904.6 705,904.6 L689.7,904.6 Z" fill="url(#gShape)"/>
<path d="M649,913.5 L704.8,913.5 Q700,932.5 680,932.5 L649,932.5 Z" fill="#4a88c0"/>
<path d="M599,878 L625.8,878 Q618,898 599,904.6 Z" fill="#5a9acc"/>
<path d="M574,915 Q580,925 588,930" fill="none" stroke="#8cc4e4" stroke-width="1.8"/>
<path d="M672,787 Q680,784 686,789" fill="none" stroke="#8cc4e4" stroke-width="1.6"/>
<path d="M706,805 Q710,810 709,815" fill="none" stroke="#8cc4e4" stroke-width="1.6"/>
</g>
<g stroke-linecap="butt">
<g stroke="#6fb0dc" stroke-width="2.3">
<line x1="632.8" y1="803" x2="672.3" y2="803"/>
<line x1="632.8" y1="812.2" x2="665.3" y2="812.2"/>
<line x1="599" y1="821.7" x2="657.2" y2="821.7" stroke="#8cc4e4"/>
<line x1="599" y1="830.8" x2="648" y2="830.8" stroke="#8cc4e4"/>
<line x1="599" y1="839.6" x2="641" y2="839.6" stroke="#8cc4e4"/>
<line x1="599" y1="848.9" x2="628" y2="848.9" stroke="#4a88c0"/>
<line x1="599" y1="857.5" x2="629" y2="857.5" stroke="#4a88c0"/>
<line x1="599" y1="867" x2="629" y2="867" stroke="#4a88c0"/>
<line x1="674" y1="839.6" x2="681.5" y2="839.6"/>
<line x1="663" y1="857.5" x2="681.5" y2="857.5"/>
<line x1="642" y1="875.6" x2="681.5" y2="875.6" stroke="#8cc4e4"/>
<line x1="633" y1="884.9" x2="681.5" y2="884.9" stroke="#4a88c0"/>
<line x1="643" y1="894.2" x2="681.5" y2="894.2" stroke="#4a88c0"/>
<line x1="633" y1="903" x2="681.5" y2="903" stroke="#4a88c0"/>
<line x1="599" y1="916.3" x2="641" y2="916.3"/>
<line x1="599" y1="925.5" x2="641" y2="925.5"/>
<line x1="599" y1="934.4" x2="623.5" y2="934.4" stroke="#4a88c0"/>
<line x1="634" y1="940.2" x2="653.7" y2="940.2" stroke="#4a88c0"/>
<line x1="656" y1="940.2" x2="681.5" y2="940.2" stroke="#4a88c0"/>
</g>
</g>
<g transform="translate(639.8 858.2) rotate(-46.8)">
<path d="M0,0 L12,-6.5 L12,6.5 Z" fill="#a8d0e8" stroke="#13284a" stroke-width="1"/>
<rect x="12" y="-6.5" width="80" height="13" fill="#3f88c6" stroke="#13284a" stroke-width="1"/>
<rect x="12.5" y="-6" width="79" height="6" fill="#62aede"/>
<rect x="89" y="-7" width="17" height="14" rx="5.5" fill="#8cc0e0" stroke="#13284a" stroke-width="1"/>
</g>

<!--/ICONS-->
</svg>
</body></html>
